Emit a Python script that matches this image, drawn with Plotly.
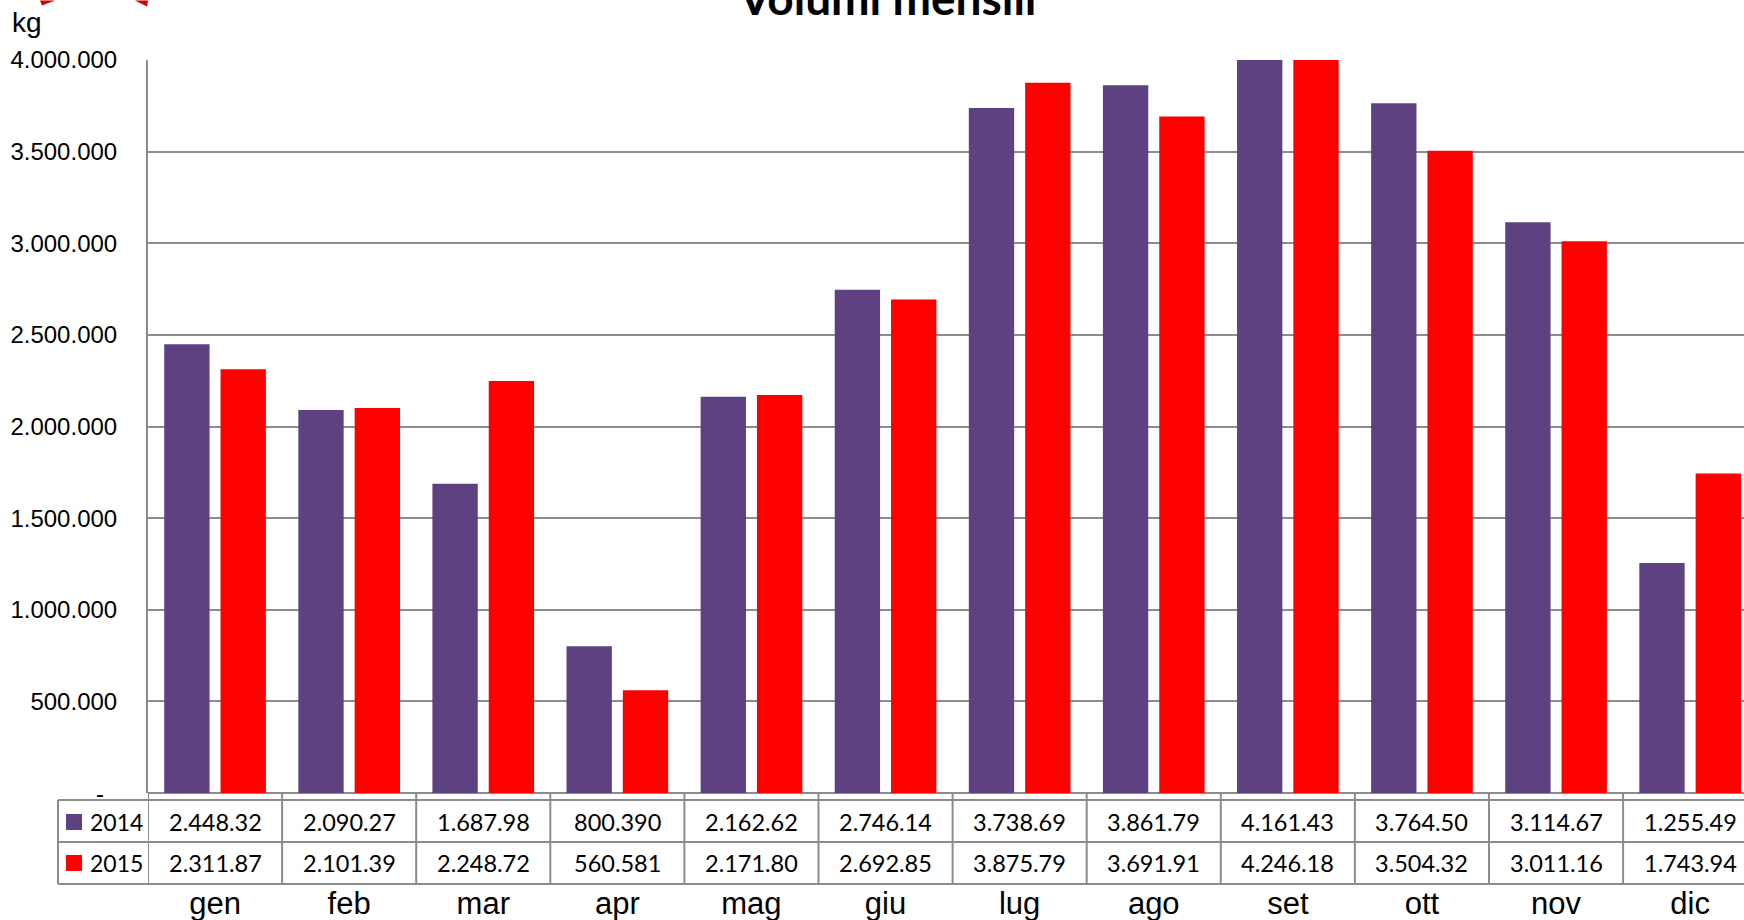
import plotly.graph_objects as go

# ---------------- data ----------------
months = ["gen", "feb", "mar", "apr", "mag", "giu", "lug", "ago", "set", "ott", "nov", "dic"]
series_names = ["2014", "2015"]
v2014 = [2448320, 2090270, 1687980, 800390, 2162620, 2746140, 3738690, 3861790, 4161430, 3764500, 3114670, 1255490]
v2015 = [2311870, 2101390, 2248720, 560581, 2171800, 2692850, 3875790, 3691910, 4246180, 3504320, 3011160, 1743940]
y_tickvals = [500000, 1000000, 1500000, 2000000, 2500000, 3000000, 3500000, 4000000]
y_ticktext = ["500.000", "1.000.000", "1.500.000", "2.000.000", "2.500.000", "3.000.000", "3.500.000", "4.000.000"]
title_text = "Volumi mensili"
unit_text = "kg"

# ---------------- style ----------------
W, H = 1744, 920
L, R, T, B = 148, 1744, 59.5, 793
PURPLE = "#5D4181"
RED = "#FF0000"
GRID = "#8C8C8C"
NUM_FONT = "Lato"
AX_FONT = "Liberation Sans"


def px(xp):
    return (xp - L) / (R - L)


def py(yp):
    return (B - yp) / (B - T)


def table_label(v):
    return f"{v:,}".replace(",", ".")[:8]


cat_w = 134.1
x_max = (R - L) / cat_w - 0.5

fig = go.Figure()
fig.add_trace(go.Bar(x=months, y=v2014, name=series_names[0], marker=dict(color=PURPLE, line=dict(width=0))))
fig.add_trace(go.Bar(x=months, y=v2015, name=series_names[1], marker=dict(color=RED, line=dict(width=0))))

shapes = []
annotations = []

# table horizontal lines
for yp in (800, 842, 884):
    shapes.append(dict(type="line", xref="paper", yref="paper", x0=px(58), x1=1.0, y0=py(yp), y1=py(yp),
                       line=dict(color=GRID, width=2)))
# table left edge
shapes.append(dict(type="line", xref="paper", yref="paper", x0=px(58), x1=px(58), y0=py(800), y1=py(884),
                   line=dict(color=GRID, width=2)))
# column separators
for i in range(len(months)):
    shapes.append(dict(type="line", xref="x", yref="paper", x0=i - 0.5, x1=i - 0.5, y0=0, y1=py(884),
                       line=dict(color=GRID, width=2)))

# legend keys in table
for yp_c, col, name in ((822, PURPLE, series_names[0]), (863, RED, series_names[1])):
    shapes.append(dict(type="rect", xref="paper", yref="paper", x0=px(66), x1=px(82), y0=py(yp_c - 8), y1=py(yp_c + 8),
                       fillcolor=col, line=dict(width=0)))
    annotations.append(dict(text=name, xref="paper", yref="paper", x=px(88), y=py(yp_c), xanchor="left",
                            yanchor="middle", showarrow=False, font=dict(family=NUM_FONT, size=23, color="#000")))

# table values
for row_y, vals in ((822, v2014), (863, v2015)):
    for m, v in zip(months, vals):
        annotations.append(dict(text=table_label(v), xref="x", yref="paper", x=m, y=py(row_y), xanchor="center",
                                yanchor="middle", showarrow=False, font=dict(family=NUM_FONT, size=23.5, color="#000")))

# zero label
annotations.append(dict(text="-", xref="paper", yref="paper", x=px(106), y=0, xanchor="right", yanchor="middle",
                        showarrow=False, font=dict(family=AX_FONT, size=24, color="#000")))
# unit label
annotations.append(dict(text=unit_text, xref="paper", yref="paper", x=px(10), y=py(4), xanchor="left", yanchor="top",
                        showarrow=False, font=dict(family=AX_FONT, size=28, color="#000")))
# title (cut at top as in reference)
annotations.append(dict(text="<b>" + title_text + "</b>", xref="paper", yref="paper", x=px(887), y=py(26),
                        xanchor="center", yanchor="bottom", showarrow=False,
                        font=dict(family="Lato", size=46, color="#000")))

# red logo fragments at top-left
shapes.append(dict(type="path", xref="paper", yref="paper",
                   path=f"M {px(40)} {py(0)} L {px(55)} {py(0)} L {px(42)} {py(5)} Z",
                   fillcolor="#D40000", line=dict(width=0)))
shapes.append(dict(type="path", xref="paper", yref="paper",
                   path=f"M {px(135)} {py(0)} L {px(148)} {py(0)} L {px(147)} {py(6)} Z",
                   fillcolor="#D40000", line=dict(width=0)))

fig.update_layout(
    width=W, height=H,
    margin=dict(l=L, r=W - R, t=T, b=H - B, pad=0, autoexpand=False),
    paper_bgcolor="white", plot_bgcolor="white",
    barmode="group", bargap=0.16, bargroupgap=0.195,
    showlegend=False,
    shapes=shapes, annotations=annotations,
    xaxis=dict(type="category", range=[-0.5, x_max], showgrid=False, showline=False, zeroline=False,
               automargin=False, ticks="", tickfont=dict(family=AX_FONT, size=31, color="#000"),
               ticklabelstandoff=89),
    yaxis=dict(range=[0, 4000000], tickvals=y_tickvals, ticktext=y_ticktext, showgrid=True, gridcolor=GRID,
               gridwidth=2, showline=True, linecolor=GRID, linewidth=2, zeroline=True, zerolinecolor=GRID,
               zerolinewidth=2, ticks="", ticklabelstandoff=24, automargin=False,
               tickfont=dict(family=AX_FONT, size=24, color="#000")),
)

fig.write_html("out.html", config={"displayModeBar": False},
               post_script="document.body.style.margin='0';document.body.style.overflow='hidden';")
